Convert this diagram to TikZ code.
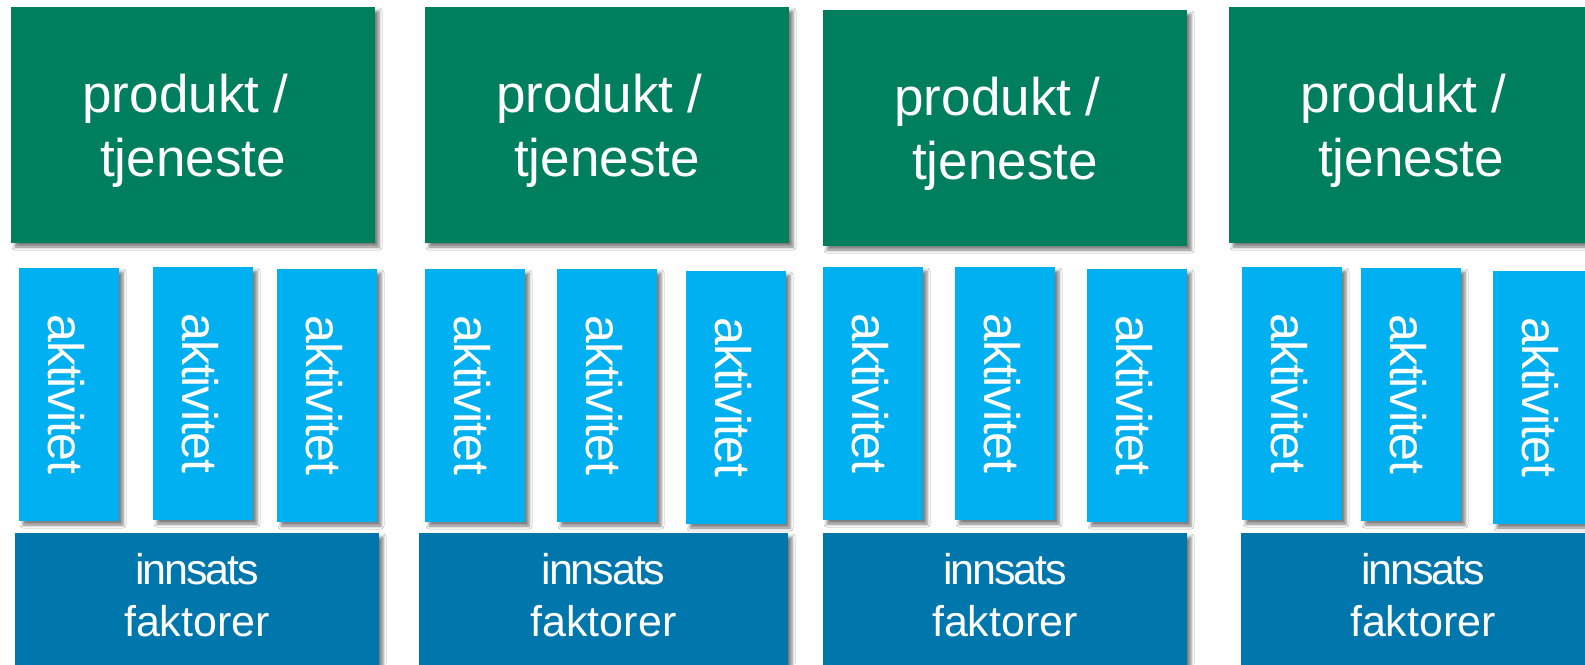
\documentclass[tikz,border=0pt]{standalone}
\usepackage{fontspec}
\setmainfont{Liberation Sans}
\usetikzlibrary{shadows.blur}
\definecolor{prodgreen}{HTML}{007F5F}
\definecolor{actblue}{HTML}{00B0F0}
\definecolor{inblue}{HTML}{0077AC}
\tikzset{
  shd/.style={blur shadow={shadow xshift=4pt, shadow yshift=-4pt, shadow blur radius=3pt, shadow opacity=50}},
  prodbox/.style={shd, fill=prodgreen, draw=none, minimum width=364pt, minimum height=236pt, inner sep=0pt},
  actbox/.style={shd, fill=actblue, draw=none, minimum width=100pt, minimum height=253pt, inner sep=0pt},
  inbox/.style={shd, fill=inblue, draw=none, minimum width=#1, minimum height=167pt, inner sep=0pt},
  inbox/.default=364pt,
  prodtext/.style={text=white, align=center, inner sep=0pt, font=\fontsize{53}{64}\selectfont},
  acttext/.style={text=white, rotate=-90, inner sep=0pt, font=\fontsize{50}{60}\selectfont\addfontfeatures{LetterSpace=-2.5}},
  intext/.style={text=white, align=center, inner sep=0pt, font=\fontsize{43}{52}\selectfont},
}
\newcommand{\prodlabel}{produkt /\kern0.278em\\tjeneste}
\newcommand{\inlabel}{{\addfontfeatures{LetterSpace=-4.8}innsats}\\faktorer}
\begin{document}
\begin{tikzpicture}[x=1pt,y=-1pt]
\useasboundingbox (0,0) rectangle (1585,664);
\fill[white] (0,0) rectangle (1585,664);
\clip (0,0) rectangle (1585,664);
% group 1
\node[prodbox] (g1) at (193,125) {};
\node[prodtext] (g1t) at ([yshift=-6pt]g1.center) {\prodlabel};
\node[actbox] (a11) at (69,394.5) {};
\node[actbox] (a12) at (203,393.5) {};
\node[actbox] (a13) at (327,395.5) {};
\node[acttext] (a11t) at ([xshift=-3pt]a11.center) {aktivitet};
\node[acttext] (a12t) at ([xshift=-3pt]a12.center) {aktivitet};
\node[acttext] (a13t) at ([xshift=-3pt]a13.center) {aktivitet};
\node[inbox] (i1) at (197,616.5) {};
\node[intext] (i1t) at (197,595) {\inlabel};
% group 2
\node[prodbox] (g2) at (607,125) {};
\node[prodtext] (g2t) at ([yshift=-6pt]g2.center) {\prodlabel};
\node[actbox] (a21) at (475,395.5) {};
\node[actbox] (a22) at (607,395.5) {};
\node[actbox] (a23) at (736,397.5) {};
\node[acttext] (a21t) at ([xshift=-3pt]a21.center) {aktivitet};
\node[acttext] (a22t) at ([xshift=-3pt]a22.center) {aktivitet};
\node[acttext] (a23t) at ([xshift=-3pt]a23.center) {aktivitet};
\node[inbox=369pt] (i2) at (603.5,616.5) {};
\node[intext] (i2t) at (603.5,595) {\inlabel};
% group 3
\node[prodbox] (g3) at (1005,128) {};
\node[prodtext] (g3t) at ([yshift=-6pt]g3.center) {\prodlabel};
\node[actbox] (a31) at (873,393.5) {};
\node[actbox] (a32) at (1005,393.5) {};
\node[actbox] (a33) at (1137,395.5) {};
\node[acttext] (a31t) at ([xshift=-3pt]a31.center) {aktivitet};
\node[acttext] (a32t) at ([xshift=-3pt]a32.center) {aktivitet};
\node[acttext] (a33t) at ([xshift=-3pt]a33.center) {aktivitet};
\node[inbox] (i3) at (1005,616.5) {};
\node[intext] (i3t) at (1005,595) {\inlabel};
% group 4
\node[prodbox] (g4) at (1411,125) {};
\node[prodtext] (g4t) at ([yshift=-6pt]g4.center) {\prodlabel};
\node[actbox] (a41) at (1292,393.5) {};
\node[actbox] (a42) at (1411,394.5) {};
\node[actbox] (a43) at (1543,397.5) {};
\node[acttext] (a41t) at ([xshift=-3pt]a41.center) {aktivitet};
\node[acttext] (a42t) at ([xshift=-3pt]a42.center) {aktivitet};
\node[acttext] (a43t) at ([xshift=-3pt]a43.center) {aktivitet};
\node[inbox] (i4) at (1423,616.5) {};
\node[intext] (i4t) at (1423,595) {\inlabel};
\end{tikzpicture}
\end{document}
